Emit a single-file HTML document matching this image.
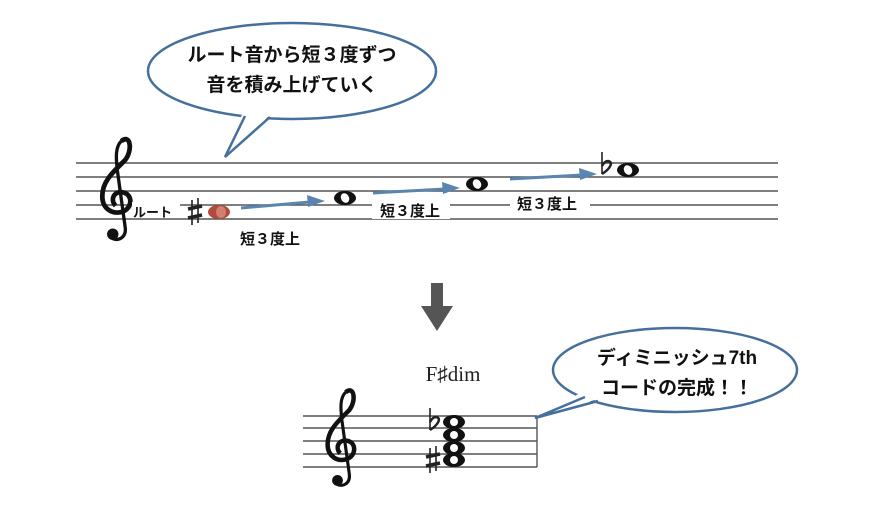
<!DOCTYPE html>
<html><head><meta charset="utf-8"><style>
html,body{margin:0;padding:0;background:#fff;width:872px;height:517px;overflow:hidden}
text{font-family:"Liberation Sans","Noto Sans CJK JP",sans-serif}
</style></head><body>
<svg width="872" height="517" viewBox="0 0 872 517" xmlns="http://www.w3.org/2000/svg">
<defs>
<g id="clef">
<path d="M14 -62 C24 -70 26 -52 18 -42 C6 -30 -6 -20 -6 -4 C-6 10 6 16 16 12 C26 8 26 -6 16 -8 C6 -10 2 0 8 6" fill="none" stroke="#111" stroke-width="5"/>
<path d="M14 -62 C8 -56 8 -46 10 -30 L18 28 C20 40 10 44 4 40" fill="none" stroke="#111" stroke-width="3.5"/>
<circle cx="5" cy="36" r="6" fill="#111"/>
</g>
<g id="sharp" stroke="#222" fill="none">
<line x1="-3" y1="-12" x2="-3" y2="13" stroke-width="1.6"/>
<line x1="3" y1="-14" x2="3" y2="11" stroke-width="1.6"/>
<line x1="-7" y1="-3" x2="7" y2="-6" stroke-width="3.5"/>
<line x1="-7" y1="6" x2="7" y2="3" stroke-width="3.5"/>
</g>
<g id="flat" stroke="#222" fill="none">
<line x1="-4" y1="-16" x2="-4" y2="6" stroke-width="1.6"/>
<path d="M-4 6 C4 1 8 -6 2 -7 C-1 -7 -3 -4 -4 -2" stroke-width="2.5"/>
</g>
<g id="whole"><ellipse cx="0" cy="0" rx="11" ry="7" fill="#111"/><ellipse cx="0" cy="0" rx="4" ry="5" fill="#fff" transform="rotate(-30)"/></g>
</defs>

<!-- bubble 1 -->
<ellipse cx="292" cy="71" rx="144" ry="48" fill="#fff" stroke="#46709c" stroke-width="2.5"/>
<polygon points="243,112 272,113 225,157" fill="#fff" stroke="none"/>
<polyline points="245,116 225,157 270,117" fill="none" stroke="#46709c" stroke-width="2.5"/>
<text x="292" y="61" font-size="19" font-weight="bold" text-anchor="middle" fill="#111">ルート音から短３度ずつ</text>
<text x="292" y="91" font-size="19" font-weight="bold" text-anchor="middle" fill="#111">音を積み上げていく</text>

<!-- staff 1 -->
<g stroke="#555" stroke-width="1.4">
<line x1="76" y1="163" x2="778" y2="163"/><line x1="76" y1="177" x2="778" y2="177"/>
<line x1="76" y1="191" x2="778" y2="191"/><line x1="76" y1="205" x2="778" y2="205"/>
<line x1="76" y1="219" x2="778" y2="219"/>
</g>
<use href="#clef" transform="translate(108,200) scale(0.95)"/>
<rect x="132" y="202" width="48" height="16" fill="#fff"/>
<text x="133" y="217" font-size="13" font-weight="bold" fill="#111">ルート</text>
<use href="#sharp" transform="translate(195,212)"/>
<ellipse cx="219" cy="212" rx="11" ry="7" fill="#b04a3a"/><ellipse cx="221" cy="212" rx="5" ry="6" fill="#d08070"/>
<use href="#whole" transform="translate(345,198)"/>
<use href="#whole" transform="translate(477,184)"/>
<use href="#flat" transform="translate(606,168)"/>
<use href="#whole" transform="translate(628,170)"/>
<g fill="#5a85b0" stroke="#5a85b0">
<line x1="241" y1="208" x2="310" y2="202" stroke-width="3"/><path d="M325 201 L307 195 L308 207 Z" stroke="none"/>
<line x1="373" y1="193" x2="445" y2="189" stroke-width="3"/><path d="M460 188 L442 182 L443 194 Z" stroke="none"/>
<line x1="510" y1="179" x2="582" y2="175" stroke-width="3"/><path d="M597 174 L579 168 L580 180 Z" stroke="none"/>
</g>
<rect x="372" y="199" width="78" height="20" fill="#fff"/>
<text x="380" y="216" font-size="15" font-weight="bold" fill="#111">短３度上</text>
<rect x="510" y="192" width="80" height="20" fill="#fff"/>
<text x="517" y="209" font-size="15" font-weight="bold" fill="#111">短３度上</text>
<text x="240" y="244" font-size="15" font-weight="bold" fill="#111">短３度上</text>

<!-- down arrow -->
<rect x="431" y="283" width="12" height="24" fill="#555"/>
<path d="M421 306 L453 306 L437 331 Z" fill="#555"/>

<!-- staff 2 -->
<text x="453" y="381" font-size="21" text-anchor="middle" fill="#222" style="font-family:'Liberation Serif',serif">F♯dim</text>
<g stroke="#555" stroke-width="1.4">
<line x1="303" y1="416" x2="537" y2="416"/><line x1="303" y1="428" x2="537" y2="428"/>
<line x1="303" y1="441" x2="537" y2="441"/><line x1="303" y1="454" x2="537" y2="454"/>
<line x1="303" y1="467" x2="537" y2="467"/><line x1="537" y1="416" x2="537" y2="467"/>
</g>
<use href="#clef" transform="translate(333,448) scale(0.9)"/>
<use href="#flat" transform="translate(434,424)"/>
<use href="#sharp" transform="translate(433,460)"/>
<g fill="#111">
<ellipse cx="454" cy="422" rx="11" ry="7"/><ellipse cx="454" cy="435" rx="11" ry="7"/>
<ellipse cx="454" cy="448" rx="11" ry="7"/><ellipse cx="454" cy="460" rx="11" ry="7"/>
</g>
<g fill="#fff">
<ellipse cx="454" cy="422" rx="4" ry="4"/><ellipse cx="454" cy="435" rx="4" ry="4"/>
<ellipse cx="454" cy="448" rx="4" ry="4"/><ellipse cx="454" cy="460" rx="4" ry="4"/>
</g>

<!-- bubble 2 -->
<ellipse cx="675" cy="370" rx="122" ry="42" fill="#fff" stroke="#46709c" stroke-width="2.5"/>
<polygon points="582,392 601,398 535,418" fill="#fff" stroke="none"/>
<polyline points="585,397 535,418 598,401" fill="none" stroke="#46709c" stroke-width="2.5"/>
<text x="677" y="364" font-size="19" font-weight="bold" text-anchor="middle" fill="#111">ディミニッシュ7th</text>
<text x="677" y="394" font-size="19" font-weight="bold" text-anchor="middle" fill="#111">コードの完成！！</text>
</svg>
</body></html>
